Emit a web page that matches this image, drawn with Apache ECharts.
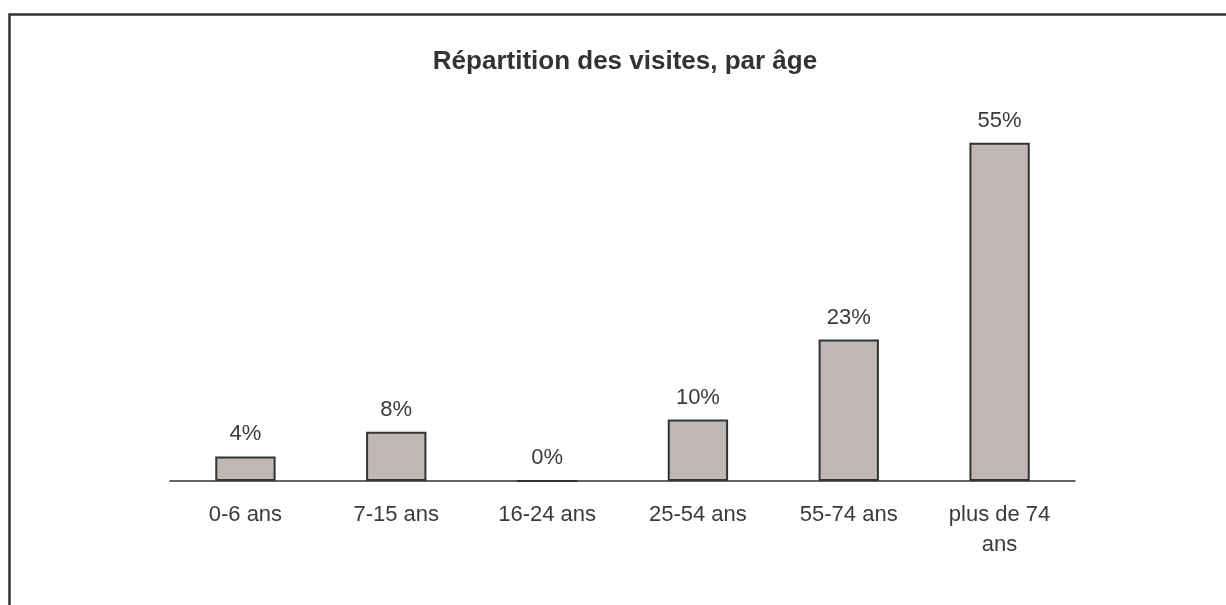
<!DOCTYPE html>
<html>
<head>
<meta charset="utf-8">
<script src="https://cdn.jsdelivr.net/npm/echarts@6/dist/echarts.min.js"></script>
<style>
  html, body { margin: 0; padding: 0; background: #fff; }
  #chart { width: 1226px; height: 605px; }
</style>
</head>
<body>
<div id="chart"></div>
<script>
// données
var categories = ['0-6 ans', '7-15 ans', '16-24 ans', '25-54 ans', '55-74 ans', 'plus de 74\nans'];
var values = [4, 8, 0, 10, 23, 55];

var myChart = echarts.init(document.getElementById('chart'));
var options = {
    backgroundColor: '#fff',
    animation: false,
    title: {
        text: 'Répartition des visites, par âge',
        left: 620,
        top: 44,
        textAlign: 'center',
        textStyle: {
            fontFamily: 'Liberation Sans',
            fontSize: 26,
            fontWeight: 'bold',
            color: '#333'
        }
    },
    // cadre autour du graphique
    graphic: [{
        type: 'rect',
        shape: { x: 9.5, y: 14.5, width: 1400, height: 800 },
        style: { fill: 'none', stroke: '#333', lineWidth: 2.5 },
        silent: true
    }],
    grid: {
        left: 170,
        right: 151,
        top: 112,
        bottom: 124
    },
    xAxis: {
        type: 'category',
        data: categories,
        axisLine: { lineStyle: { color: '#333', width: 1.5 } },
        axisTick: { show: false },
        axisLabel: {
            margin: 19,
            fontFamily: 'Liberation Sans',
            fontSize: 22,
            lineHeight: 30,
            color: '#3a3a3a',
            interval: 0
        }
    },
    yAxis: {
        type: 'value',
        min: 0,
        max: 60,
        show: false,
        splitLine: { show: false }
    },
    series: [{
        type: 'bar',
        data: values,
        barWidth: '40%',
        itemStyle: {
            color: '#bfb7b4',
            borderColor: '#333',
            borderWidth: 2
        },
        label: {
            show: true,
            position: 'top',
            distance: 11,
            formatter: '{c}%',
            fontFamily: 'Liberation Sans',
            fontSize: 22,
            color: '#3a3a3a'
        }
    }]
};
myChart.setOption(options);
</script>
</body>
</html>
